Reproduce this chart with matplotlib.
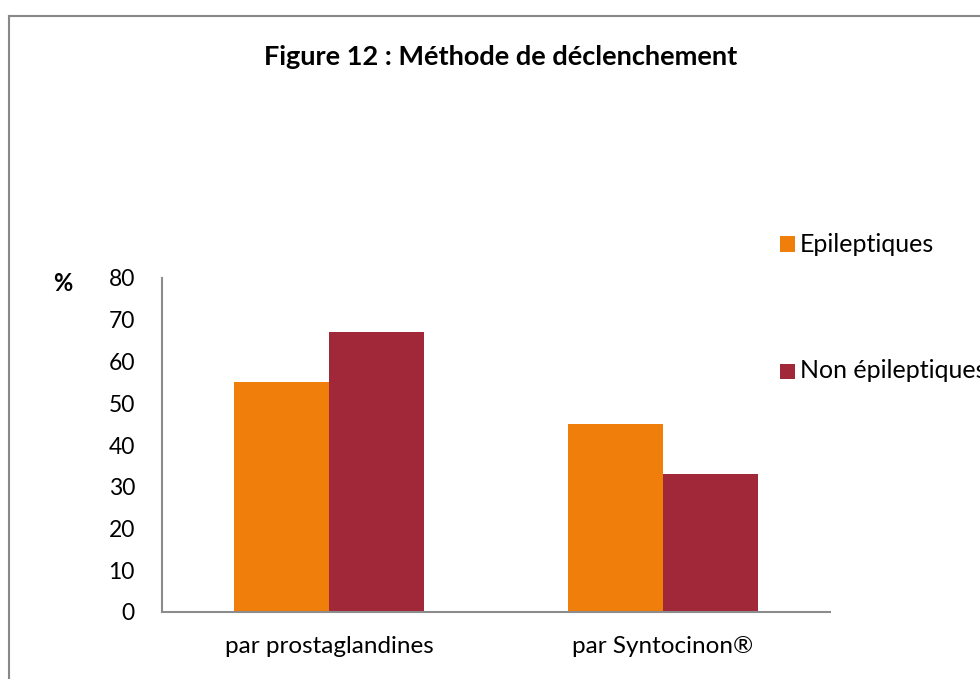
import matplotlib
matplotlib.use("Agg")
import matplotlib.pyplot as plt
from matplotlib.patches import Rectangle
from matplotlib.lines import Line2D
import numpy as np

categories = ["par prostaglandines", "par Syntocinon®"]
series_names = ["Epileptiques", "Non épileptiques"]
epileptiques = [55, 45]
non_epileptiques = [67, 33]
yticks = [0, 10, 20, 30, 40, 50, 60, 70, 80]

colors = ["#EF7F0A", "#A02839"]
FONT = ["Lato", "DejaVu Sans"]
plt.rcParams['font.family'] = FONT

W, H = 980, 679
fig = plt.figure(figsize=(9.8, 6.79), dpi=100)
ax = fig.add_axes([162/W, (H-612)/H, 668/W, (612-278)/H])

x = np.arange(len(categories))
w = 0.285
ax.bar(x - w/2, epileptiques, w, color=colors[0], label=series_names[0])
ax.bar(x + w/2, non_epileptiques, w, color=colors[1], label=series_names[1])

ax.set_xlim(-0.5, 1.5)
ax.set_ylim(0, 80)
ax.set_yticks(yticks)
ax.set_yticklabels([str(v) for v in yticks], fontsize=16.5)
ax.set_xticks(x)
ax.set_xticklabels(categories, fontsize=17.5)
ax.tick_params(axis='y', length=0, pad=19.5)
ax.tick_params(axis='x', length=0, pad=17)
for s in ["top", "right"]:
    ax.spines[s].set_visible(False)
for s in ["left", "bottom"]:
    ax.spines[s].set_color("#8c8c8c")
    ax.spines[s].set_linewidth(1.5)

fig.text(501/W, 1 - 57/H, "Figure 12 : Méthode de déclenchement",
         ha="center", va="center", fontsize=19.5, fontweight="bold")
fig.text(63/W, 1 - 283/H, "%", ha="center", va="center",
         fontsize=17, fontweight="bold")

# legend (drawn manually to match the original placement)
leg_y = [244, 371]
for name, col, yc in zip(series_names, colors, leg_y):
    fig.add_artist(Rectangle((780/W, 1 - (yc + 7.5)/H), 15/W, 15/H,
                             transform=fig.transFigure, facecolor=col,
                             edgecolor="none"))
    fig.text(800/W, 1 - yc/H, name, ha="left", va="center", fontsize=18)

# outer border (top and left visible)
fig.add_artist(Line2D([8.5/W, 1.0], [1 - 16/H, 1 - 16/H],
                      transform=fig.transFigure, color="#888888", lw=1.5))
fig.add_artist(Line2D([8.5/W, 8.5/W], [0, 1 - 16/H],
                      transform=fig.transFigure, color="#888888", lw=1.5))

fig.savefig("out.png", dpi=100, facecolor="white")
